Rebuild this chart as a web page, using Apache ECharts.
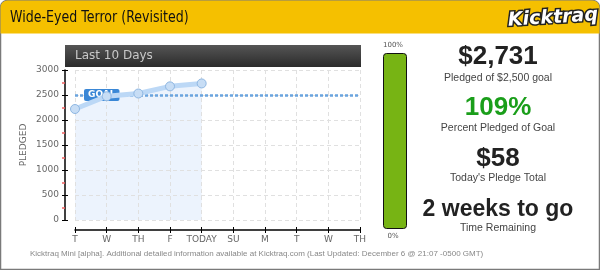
<!DOCTYPE html>
<html><head><meta charset="utf-8">
<script src="https://cdn.jsdelivr.net/npm/echarts@6/dist/echarts.min.js"></script>
<style>html,body{margin:0;padding:0;background:#fff}#c{width:600px;height:270px}</style>
</head><body><div id="c"></div>
<script>
const title = 'Wide-Eyed Terror (Revisited)';
const days = ['T','W','TH','F','TODAY','SU','M','T','W','TH'];
const pledged = [2220, 2475, 2530, 2673, 2731];
const goal = 2500;
const yMin = 0, yMax = 3000, yInterval = 500;
const percentFunded = 109;
const statValues = ['$2,731', '109%', '$58', '2 weeks to go'];
const statLabels = ['Pledged of $2,500 goal', 'Percent Pledged of Goal', "Today's Pledge Total", 'Time Remaining'];
const footer = 'Kicktraq Mini [alpha]. Additional detailed information available at Kicktraq.com (Last Updated: December 6 @ 21:07 -0500 GMT)';

const chart = echarts.init(document.getElementById('c'), null, {renderer:'canvas'});
const F = 'DejaVu Sans';
const statY = [57, 108, 159, 210];
const labY = [78, 128, 178, 228];
const graphics = [
  {type:'rect', shape:{x:0.5,y:0.5,width:599,height:269,r:[7,7,0,0]}, style:{fill:'#fff',stroke:'#7a7a7a',lineWidth:1.5}, z:-1},
  {type:'rect', shape:{x:0.5,y:0.5,width:599,height:33,r:[7,7,0,0]}, style:{fill:'#f5c000'}, z:1},
  {type:'text', x:10, y:18, scaleX:0.84, style:{text:title, fill:'#111', font:'15px "DejaVu Sans", sans-serif', verticalAlign:'middle'}, z:2},
  {type:'text', x:553, y:18, rotation:0.06, style:{text:'Kicktraq', fill:'#fff', stroke:'#222', lineWidth:3, font:'italic bold 19px "DejaVu Sans", sans-serif', align:'center', verticalAlign:'middle'}, z:3},
  {type:'rect', shape:{x:65,y:45,width:296,height:22}, style:{fill:new echarts.graphic.LinearGradient(0,0,0,1,[{offset:0,color:'#555'},{offset:1,color:'#2b2b2b'}])}, z:1},
  {type:'text', x:75, y:56, style:{text:'Last 10 Days', fill:'#c8c8c8', font:'12px "DejaVu Sans", sans-serif', verticalAlign:'middle'}, z:2},
  {type:'text', x:393, y:45, style:{text:'100%', fill:'#555', font:'7px "DejaVu Sans", sans-serif', align:'center', verticalAlign:'middle'}, z:2},
  {type:'text', x:393, y:236, style:{text:'0%', fill:'#555', font:'7px "DejaVu Sans", sans-serif', align:'center', verticalAlign:'middle'}, z:2},
  {type:'text', x:30, y:254, style:{text:footer, fill:'#888', font:'8px "Liberation Sans", sans-serif', align:'left', verticalAlign:'middle'}, z:2}
];
statValues.forEach((v,i)=>{
  graphics.push({type:'text', x:498, y:statY[i], style:{text:v, fill: i===1 ? '#1a9e1a' : '#222', font:'bold '+(i===3?'23px':'26px')+' "Liberation Sans", Arial, sans-serif', align:'center', verticalAlign:'middle'}, z:2});
  graphics.push({type:'text', x:498, y:labY[i], style:{text:statLabels[i], fill:'#444', font:'10.5px "Liberation Sans", Arial, sans-serif', align:'center', verticalAlign:'middle'}, z:2});
});

const lab = {color:'#666', fontSize:9, fontFamily:F};
const gridLine = {show:true, lineStyle:{color:'#e0e0e0', width:1, type:[4,3]}};
chart.setOption({
  animation:false,
  graphic: graphics,
  grid:[
    {left:75, right:240, top:70, bottom:50},
    {left:383, top:53, width:24, height:176}
  ],
  xAxis:[
    {type:'category', data:days, boundaryGap:false, gridIndex:0, offset:10, z:3,
     axisLine:{onZero:false, lineStyle:{color:'#000',width:1.5}}, axisTick:{show:true,interval:0,length:3,lineStyle:{color:'#000'}},
     axisLabel:Object.assign({margin:5, interval:0}, lab),
     splitLine:Object.assign({interval:0}, gridLine)},
    {type:'category', data:days, boundaryGap:false, gridIndex:0, offset:10, position:'bottom',
     axisLine:{show:false, onZero:false}, axisTick:{show:true,interval:0,inside:true,length:3,lineStyle:{color:'#000'}},
     axisLabel:{show:false}, splitLine:{show:false}},
    {type:'category', data:['p'], gridIndex:1, show:false}
  ],
  yAxis:[
    {type:'value', min:yMin, max:yMax, interval:yInterval, gridIndex:0, offset:10, z:3,
     name:'PLEDGED', nameLocation:'middle', nameGap:37, nameTextStyle:{color:'#666', fontSize:9, fontFamily:F},
     axisLine:{show:true, onZero:false, lineStyle:{color:'#000',width:1.5}},
     axisTick:{show:true,length:3,lineStyle:{color:'#000'}},
     minorTick:{show:true, splitNumber:2, length:3, lineStyle:{color:'#f06060', width:1.5}},
     axisLabel:Object.assign({margin:6, formatter:v=>String(v)}, lab),
     splitLine:gridLine},
    {type:'value', min:yMin, max:yMax, interval:yInterval, gridIndex:0, offset:10, position:'left',
     axisLine:{show:false, onZero:false}, axisTick:{show:true,inside:true,length:3,lineStyle:{color:'#000'}},
     axisLabel:{show:false}, splitLine:{show:false}},
    {type:'value', min:0, max:100, gridIndex:1, show:false}
  ],
  series:[
    {type:'line', data:pledged, xAxisIndex:0, yAxisIndex:0, z:1, silent:true,
     lineStyle:{width:0}, symbol:'none', areaStyle:{color:'rgba(200,222,250,0.35)', opacity:1}},
    {type:'line', data:[], xAxisIndex:0, yAxisIndex:0, z:4, silent:true,
     markLine:{symbol:'none', silent:true,
       lineStyle:{color:'#6aa4de', width:2.5, type:[3,2]},
       label:{show:false},
       data:[{yAxis:goal}]}},
    {type:'line', data:pledged, xAxisIndex:0, yAxisIndex:0, z:6,
     lineStyle:{color:'#bcd8f6', width:5},
     symbol:'circle', symbolSize:9, showAllSymbol:true,
     itemStyle:{color:'#c7ddf5', borderColor:'#8fb7e2', borderWidth:1}},
    {type:'bar', data:[Math.min(percentFunded,100)], xAxisIndex:2, yAxisIndex:2, barWidth:'100%',
     itemStyle:{color:'#77b414', borderColor:'#111', borderWidth:1, borderRadius:3}}
  ]
});
const gp = chart.convertToPixel({xAxisIndex:0, yAxisIndex:0}, [0, goal]);
graphics.push({type:'text', x:gp[0]+9, y:gp[1], style:{text:'GOAL', fill:'#fff', font:'bold 9px "DejaVu Sans", sans-serif', verticalAlign:'middle', backgroundColor:'#3a87d6', borderRadius:2, padding:[2,4,1,4]}, z:5});
chart.setOption({graphic: graphics}, {replaceMerge:['graphic']});
</script></body></html>
